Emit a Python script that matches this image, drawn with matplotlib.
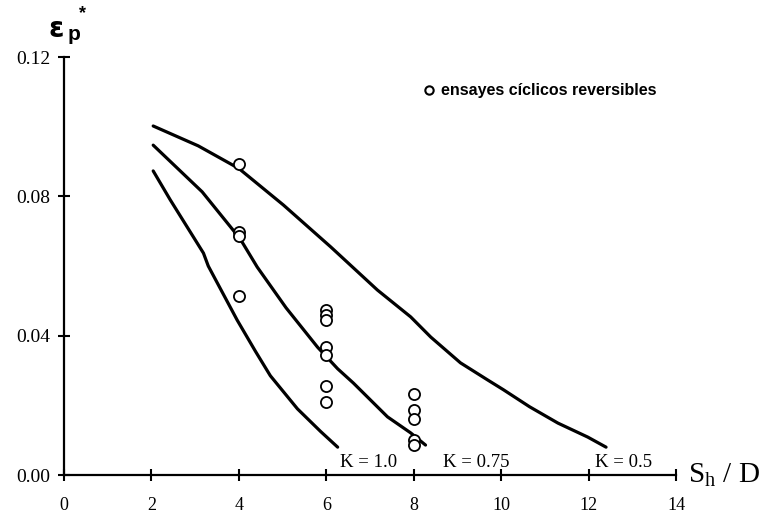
import matplotlib.pyplot as plt
import numpy as np

plt.rcParams['font.family'] = 'Liberation Serif'
plt.rcParams['mathtext.fontset'] = 'custom'
plt.rcParams['mathtext.rm'] = 'Liberation Serif'

# curves K = 0.5, 0.75, 1.0
k05_x = [2.04, 3.07, 4.00, 5.02, 6.10, 7.17, 7.93, 8.39, 9.07, 9.69, 10.05, 10.65, 11.30, 11.98, 12.40]
k05_y = [0.1002, 0.0945, 0.0880, 0.0775, 0.0655, 0.0531, 0.0454, 0.0396, 0.0322, 0.0273, 0.0245, 0.0196, 0.0149, 0.0109, 0.0080]
k075_x = [2.04, 3.16, 4.03, 4.42, 5.08, 5.80, 6.26, 6.62, 7.40, 7.93, 8.27]
k075_y = [0.0947, 0.0813, 0.0678, 0.0597, 0.0480, 0.0367, 0.0305, 0.0264, 0.0167, 0.0121, 0.0086]
k1_x = [2.04, 2.43, 3.19, 3.30, 3.96, 4.38, 4.72, 5.34, 5.87, 6.26]
k1_y = [0.0873, 0.0790, 0.0637, 0.0600, 0.0445, 0.0355, 0.0285, 0.0190, 0.0125, 0.0080]

# ensayes ciclicos reversibles
pts_x = [4, 4, 4, 4, 6, 6, 6, 6, 6, 6, 6, 8, 8, 8, 8, 8]
pts_y = [0.0893, 0.0698, 0.0686, 0.0514, 0.0474, 0.0459, 0.0445, 0.0368, 0.0344, 0.0256, 0.0210,
         0.0233, 0.0187, 0.0160, 0.0100, 0.0086]

fig = plt.figure(figsize=(7.64, 5.17), dpi=100)
ax = fig.add_axes([0.0838, 0.0812, 0.801, 0.8085])

for xs, ys in [(k05_x, k05_y), (k075_x, k075_y), (k1_x, k1_y)]:
    ax.plot(xs, ys, color='black', lw=2.3, solid_capstyle='round', solid_joinstyle='round', clip_on=False)
ax.plot(pts_x, pts_y, 'o', mfc='white', mec='black', ms=8, mew=1.3, ls='none', clip_on=False)

ax.set_xlim(0, 14)
ax.set_ylim(0, 0.12)
ax.set_xticks([0, 2, 4, 6, 8, 10, 12, 14])
ax.set_yticks([0, 0.04, 0.08, 0.12])
ax.set_yticklabels(['0.00', '0.04', '0.08', '0.12'])
ax.spines['top'].set_visible(False)
ax.spines['right'].set_visible(False)
ax.spines['left'].set_linewidth(1.6)
ax.spines['bottom'].set_linewidth(1.6)
ax.tick_params(axis='both', direction='inout', length=8, width=1.5, labelsize=13)
ax.tick_params(axis='x', pad=12)
ax.tick_params(axis='y', pad=6, labelsize=14)

# K labels
ax.text(6.97, 0.0012, 'K = 1.0', ha='center', va='bottom', fontsize=13.5)
ax.text(9.42, 0.0012, 'K = 0.75', ha='center', va='bottom', fontsize=13.5)
ax.text(12.8, 0.0012, 'K = 0.5', ha='center', va='bottom', fontsize=13.5)

# axis titles
fig.text(0.900, 0.081, r'S$_\mathrm{h}$ / D', ha='left', va='center', fontsize=21)
fig.text(0.064, 0.944, 'ε', ha='left', va='center', fontsize=20, fontweight='bold',
         family='DejaVu Sans')
fig.text(0.089, 0.933, 'p', ha='left', va='center', fontsize=15, fontweight='bold',
         family='Liberation Sans')
fig.text(0.103, 0.973, '*', ha='left', va='center', fontsize=13, fontweight='bold',
         family='Liberation Sans')

# legend
ax.plot([8.34], [0.1104], 'o', mfc='white', mec='black', ms=6, mew=1.5, clip_on=False)
ax.text(8.62, 0.1104, 'ensayes cíclicos reversibles', ha='left', va='center',
        fontsize=11.5, fontweight='bold', family='Liberation Sans')

fig.savefig('out.png', dpi=100)
